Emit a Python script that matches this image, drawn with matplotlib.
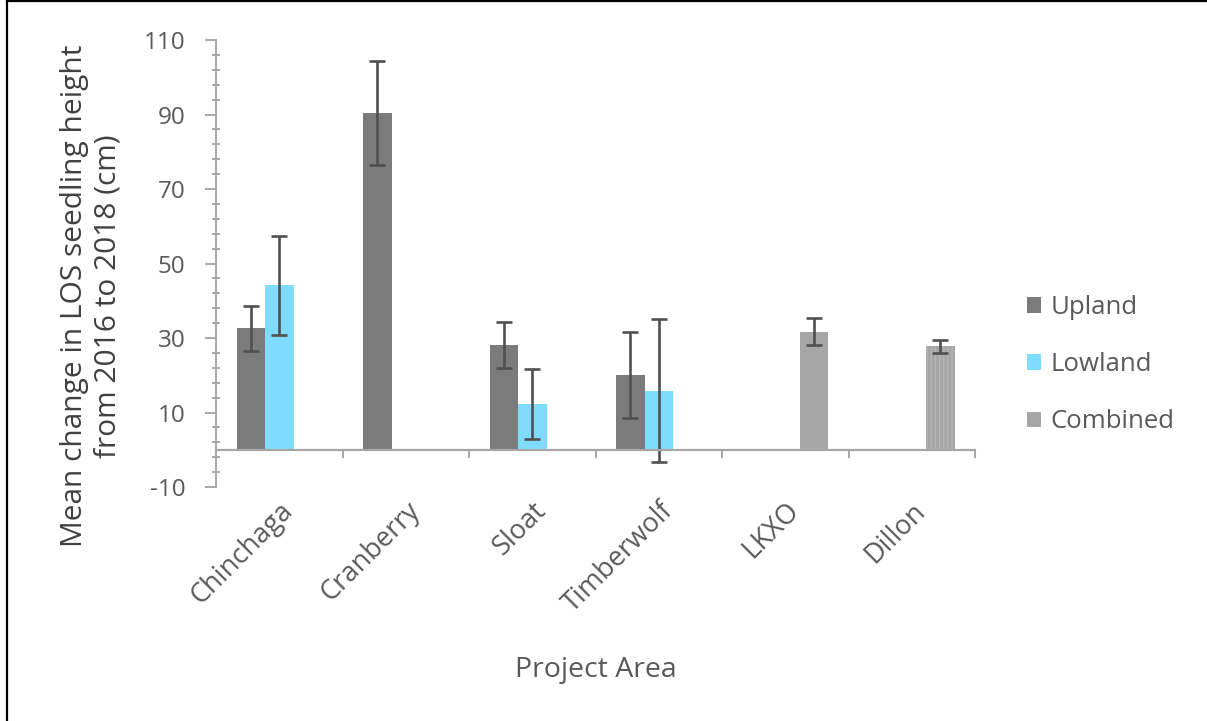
import numpy as np
import matplotlib
matplotlib.use("Agg")
import matplotlib.pyplot as plt
from matplotlib.patches import Patch
from matplotlib.lines import Line2D

plt.rcParams['font.family'] = ['Open Sans', 'DejaVu Sans']
plt.rcParams['hatch.linewidth'] = 0.8
plt.rcParams['axes.unicode_minus'] = False

nan = np.nan
categories = ['Chinchaga', 'Cranberry', 'Sloat', 'Timberwolf', 'LKXO', 'Dillon']
upland = [32.6, 90.4, 28.1, 20.0, nan, nan]
upland_err = [6.1, 14.0, 6.1, 11.5, nan, nan]
lowland = [44.2, nan, 12.3, 15.8, nan, nan]
lowland_err = [13.3, nan, 9.4, 19.2, nan, nan]
combined = [nan, nan, nan, nan, 31.7, 27.8]
combined_err = [nan, nan, nan, nan, 3.7, 1.8]
series_names = ['Upland', 'Lowland', 'Combined']

c_up = '#7b7b7b'
c_low = '#80dcff'
c_comb = '#a6a6a6'
txt = '#595959'
axis_col = '#a6a6a6'
err_col = '#505050'

fig = plt.figure(figsize=(12.07, 7.21), dpi=100)
ax = fig.add_axes([0.179, 0.3245, 0.629, 0.62])

x = np.arange(len(categories))
w = 0.225
err_kw = dict(ecolor=err_col, elinewidth=1.9, capsize=6, capthick=1.9)
ax.bar(x - w, upland, w, yerr=upland_err, color=c_up, error_kw=err_kw, zorder=2)
ax.bar(x, lowland, w, yerr=lowland_err, color=c_low, error_kw=err_kw, zorder=2)
bars_c = ax.bar(x + w, combined, w, yerr=combined_err, color=c_comb, error_kw=err_kw, zorder=2)
# Dillon is drawn with a fine vertical stripe fill
bars_c[5].set_hatch('||||')
bars_c[5].set_edgecolor('#b8b8b8')
bars_c[5].set_linewidth(0)

ax.set_xlim(-0.5, len(categories) - 0.5)
ax.set_ylim(-10, 110)

# y axis
ax.set_yticks(np.arange(-10, 111, 20))
ax.set_yticks(np.arange(-10, 111, 4), minor=True)
ax.tick_params(axis='y', which='major', direction='out', length=8, width=1.4,
               color=axis_col, labelsize=17.5, labelcolor=txt, pad=14)
ax.tick_params(axis='y', which='minor', direction='inout', length=6, width=1.4,
               color=axis_col)

# horizontal axis line at zero with boundary ticks
ax.spines['bottom'].set_position(('data', 0))
ax.spines['bottom'].set_color(axis_col)
ax.spines['bottom'].set_linewidth(1.6)
ax.set_xticks(np.arange(0.5, len(categories), 1.0))
ax.set_xticklabels([])
ax.tick_params(axis='x', which='major', direction='out', length=6, width=1.4,
               color=axis_col)
ax.spines['left'].set_color(axis_col)
ax.spines['left'].set_linewidth(1.4)
ax.spines['top'].set_visible(False)
ax.spines['right'].set_visible(False)

# category labels below the plot area
sec = ax.secondary_xaxis(0.0)
sec.set_xticks(x)
sec.set_xticklabels(categories, rotation=45, ha='right', rotation_mode='anchor',
                    fontsize=19.5, color=txt)
sec.tick_params(length=0, pad=7)
sec.spines['bottom'].set_visible(False)
sec.set_xlabel('Project Area', fontsize=20.5, color=txt, labelpad=27)

ax.set_ylabel('Mean change in LOS seedling height\nfrom 2016 to 2018 (cm)',
              fontsize=21.5, color='#404040', linespacing=1.22)
ax.yaxis.set_label_coords(-0.123, 0.427)

handles = [Patch(facecolor=c, edgecolor='none') for c in (c_up, c_low, c_comb)]
fig.legend(handles, series_names, loc='center left', bbox_to_anchor=(0.832, 0.494),
           frameon=False, fontsize=18.5, labelcolor=txt, handlelength=0.55,
           handleheight=0.55, handletextpad=0.35, labelspacing=1.25)

# frame lines along the left and top edges
fig.add_artist(Line2D([0.0055, 0.0055], [0, 0.998], transform=fig.transFigure,
                      color='black', linewidth=1.6))
fig.add_artist(Line2D([0.0055, 1.0], [0.998, 0.998], transform=fig.transFigure,
                      color='black', linewidth=1.6))

fig.savefig('out.png', dpi=100, facecolor='white')
